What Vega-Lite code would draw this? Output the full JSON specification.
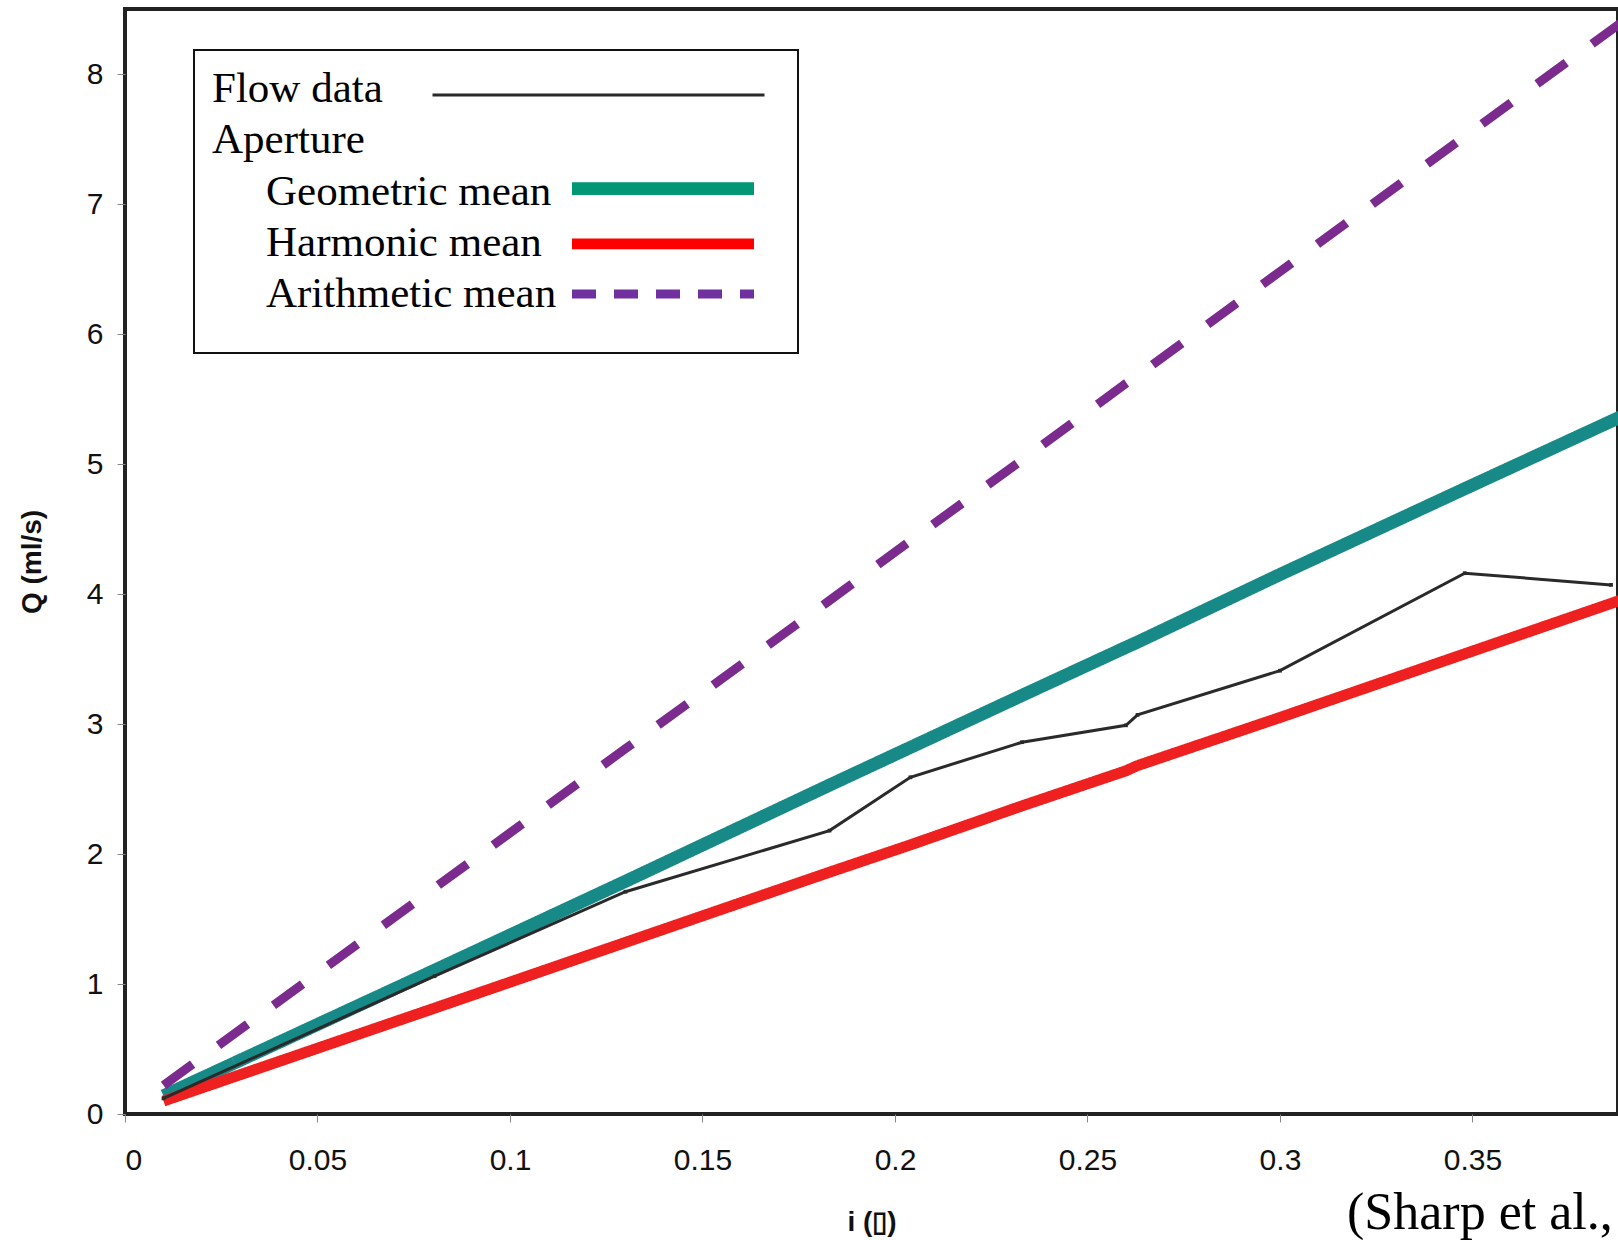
{
  "$schema": "https://vega.github.io/schema/vega-lite/v6.json",
  "width": 1493,
  "height": 1105,
  "autosize": {"type": "none"},
  "padding": {"left": 125, "top": 9, "right": 0, "bottom": 126},
  "background": "white",
  "config": {
    "view": {"stroke": "#222222", "strokeWidth": 4},
    "axis": {
      "grid": false, "domain": false,
      "labelFont": "Liberation Sans", "labelFontSize": 30, "labelColor": "#111111",
      "tickColor": "#888888", "tickSize": 8, "tickWidth": 1,
      "titleFont": "Liberation Sans", "titleFontSize": 28, "titleFontWeight": "bold", "titleColor": "#111111"
    },
    "legend": {"strokeWidth": 2}
  },
  "title": {
    "text": "(Sharp et al.,",
    "orient": "bottom", "anchor": "start", "frame": "group",
    "dx": 1222, "dy": -48, "offset": 0,
    "font": "Liberation Serif", "fontSize": 52, "fontWeight": "normal", "color": "#000000"
  },
  "datasets": {
    "flow": [
      {"i": 0.01, "Q": 0.12, "series": "Flow data"},
      {"i": 0.0804, "Q": 1.06, "series": "Flow data"},
      {"i": 0.130, "Q": 1.71, "series": "Flow data"},
      {"i": 0.183, "Q": 2.18, "series": "Flow data"},
      {"i": 0.204, "Q": 2.59, "series": "Flow data"},
      {"i": 0.233, "Q": 2.86, "series": "Flow data"},
      {"i": 0.260, "Q": 2.99, "series": "Flow data"},
      {"i": 0.263, "Q": 3.07, "series": "Flow data"},
      {"i": 0.300, "Q": 3.41, "series": "Flow data"},
      {"i": 0.348, "Q": 4.16, "series": "Flow data"},
      {"i": 0.386, "Q": 4.07, "series": "Flow data"}
    ],
    "aperture": [
      {"i": 0.01, "Q": 0.14, "series": "Geometric mean"},
      {"i": 0.08, "Q": 1.10, "series": "Geometric mean"},
      {"i": 0.13, "Q": 1.79, "series": "Geometric mean"},
      {"i": 0.183, "Q": 2.53, "series": "Geometric mean"},
      {"i": 0.204, "Q": 2.82, "series": "Geometric mean"},
      {"i": 0.233, "Q": 3.22, "series": "Geometric mean"},
      {"i": 0.26, "Q": 3.59, "series": "Geometric mean"},
      {"i": 0.263, "Q": 3.63, "series": "Geometric mean"},
      {"i": 0.30, "Q": 4.15, "series": "Geometric mean"},
      {"i": 0.348, "Q": 4.81, "series": "Geometric mean"},
      {"i": 0.40, "Q": 5.52, "series": "Geometric mean"},
      {"i": 0.01, "Q": 0.10, "series": "Harmonic mean"},
      {"i": 0.08, "Q": 0.81, "series": "Harmonic mean"},
      {"i": 0.13, "Q": 1.32, "series": "Harmonic mean"},
      {"i": 0.183, "Q": 1.86, "series": "Harmonic mean"},
      {"i": 0.204, "Q": 2.07, "series": "Harmonic mean"},
      {"i": 0.233, "Q": 2.37, "series": "Harmonic mean"},
      {"i": 0.26, "Q": 2.64, "series": "Harmonic mean"},
      {"i": 0.263, "Q": 2.68, "series": "Harmonic mean"},
      {"i": 0.30, "Q": 3.05, "series": "Harmonic mean"},
      {"i": 0.348, "Q": 3.54, "series": "Harmonic mean"},
      {"i": 0.40, "Q": 4.07, "series": "Harmonic mean"},
      {"i": 0.01, "Q": 0.22, "series": "Arithmetic mean"},
      {"i": 0.08, "Q": 1.73, "series": "Arithmetic mean"},
      {"i": 0.13, "Q": 2.81, "series": "Arithmetic mean"},
      {"i": 0.183, "Q": 3.95, "series": "Arithmetic mean"},
      {"i": 0.204, "Q": 4.41, "series": "Arithmetic mean"},
      {"i": 0.233, "Q": 5.03, "series": "Arithmetic mean"},
      {"i": 0.26, "Q": 5.62, "series": "Arithmetic mean"},
      {"i": 0.263, "Q": 5.68, "series": "Arithmetic mean"},
      {"i": 0.30, "Q": 6.48, "series": "Arithmetic mean"},
      {"i": 0.348, "Q": 7.52, "series": "Arithmetic mean"},
      {"i": 0.40, "Q": 8.64, "series": "Arithmetic mean"}
    ]
  },
  "layer": [
    {
      "data": {"name": "aperture"},
      "mark": {"type": "line", "clip": true, "strokeCap": "butt"},
      "encoding": {
        "x": {"field": "i", "type": "quantitative",
              "scale": {"domain": [0, 0.3878], "nice": false, "zero": false},
              "axis": {"values": [0, 0.05, 0.1, 0.15, 0.2, 0.25, 0.3, 0.35], "format": "~g", "labelPadding": 23, "titlePadding": 33, "title": "i (▯)"}},
        "y": {"field": "Q", "type": "quantitative",
              "scale": {"domain": [0, 8.5], "nice": false},
              "axis": {"values": [0, 1, 2, 3, 4, 5, 6, 7, 8], "format": "~g", "labelPadding": 14, "titlePadding": 40, "title": "Q (ml/s)"}},
        "color": {
          "field": "series", "type": "nominal",
          "scale": {"domain": ["Geometric mean", "Harmonic mean", "Arithmetic mean"], "range": ["#178a87", "#ee2020", "#7b2a8d"]},
          "legend": null
        },
        "strokeDash": {
          "field": "series", "type": "nominal",
          "scale": {"domain": ["Geometric mean", "Harmonic mean", "Arithmetic mean"], "range": [[1, 0], [1, 0], [36, 32]]},
          "legend": null
        },
        "strokeWidth": {
          "field": "series", "type": "nominal",
          "scale": {"domain": ["Geometric mean", "Harmonic mean", "Arithmetic mean"], "range": [13, 9, 9]},
          "legend": null
        }
      }
    },
    {
      "data": {"name": "aperture"},
      "transform": [{"filter": "datum.i > 1"}],
      "mark": {"type": "line", "strokeCap": "butt"},
      "encoding": {
        "x": {"field": "i", "type": "quantitative"},
        "y": {"field": "Q", "type": "quantitative"},
        "color": {
          "field": "series", "type": "nominal",
          "scale": {"domain": ["Geometric mean", "Harmonic mean", "Arithmetic mean"], "range": ["#009874", "#ff0000", "#7030a0"]},
          "legend": {
            "orient": "none", "legendX": 69, "legendY": 41,
            "title": ["Flow data\u00a0\u00a0\u00a0\u00a0\u00a0\u00a0\u00a0\u00a0\u00a0\u00a0\u00a0\u00a0\u00a0\u00a0\u00a0\u00a0\u00a0\u00a0\u00a0\u00a0\u00a0\u00a0\u00a0\u00a0\u00a0\u00a0\u00a0\u00a0\u00a0\u00a0\u00a0\u00a0\u00a0\u00a0\u00a0\u00a0\u00a0", "Aperture"],
            "titleFont": "Liberation Serif", "titleFontSize": 43, "titleFontWeight": "normal", "titleColor": "#000000",
            "titleLineHeight": 51, "titlePadding": 9, "titleLimit": 2000, "titleAnchor": "start",
            "labelFont": "Liberation Serif", "labelFontSize": 43, "labelColor": "#000000", "labelLimit": 2000,
            "symbolType": "stroke", "symbolSize": 33124,
            "rowPadding": 7, "padding": 18, "strokeColor": "#111111",
            "encode": {
              "symbols": {"update": {
                "x": {"value": 451},
                "y": {"signal": "datum.value === 'Geometric mean' ? 17.7 : datum.value === 'Harmonic mean' ? 21.9 : 21"}
              }},
              "labels": {"update": {
                "x": {"value": 54},
                "y": {"value": 0},
                "baseline": {"value": "top"},
                "lineHeight": {"value": 18.6},
                "text": {"signal": "datum.value === 'Arithmetic mean' ? ['Arithmetic mean', ' '] : datum.label"}
              }}
            }
          }
        },
        "strokeDash": {
          "field": "series", "type": "nominal",
          "scale": {"domain": ["Geometric mean", "Harmonic mean", "Arithmetic mean"], "range": [[1, 0], [1, 0], [24, 18]]}
        },
        "strokeWidth": {
          "field": "series", "type": "nominal",
          "scale": {"domain": ["Geometric mean", "Harmonic mean", "Arithmetic mean"], "range": [12.7, 9, 6]}
        }
      }
    },
    {
      "data": {"name": "flow"},
      "mark": {"type": "line", "strokeWidth": 3, "clip": true},
      "encoding": {
        "x": {"field": "i", "type": "quantitative"},
        "y": {"field": "Q", "type": "quantitative"},
        "color": {
          "field": "series", "type": "nominal",
          "scale": {"domain": ["Flow data"], "range": ["#2a2a2a"]},
          "legend": {
            "orient": "none", "legendX": 306, "legendY": 86,
            "title": null, "labelExpr": "''",
            "symbolType": "stroke", "symbolSize": 110224, "symbolStrokeWidth": 3,
            "padding": 0,
            "encode": {"symbols": {"update": {"stroke": {"value": "#000000"}, "strokeWidth": {"value": 3}, "y": {"value": 0}}}}
          }
        }
      }
    },
    {
      "data": {"name": "flow"},
      "mark": {"type": "point", "shape": "square", "size": 14, "filled": true, "color": "#2a2a2a", "opacity": 1, "clip": true},
      "encoding": {
        "x": {"field": "i", "type": "quantitative"},
        "y": {"field": "Q", "type": "quantitative"}
      }
    }
  ],
  "resolve": {
    "scale": {"color": "independent", "strokeDash": "independent", "strokeWidth": "independent"},
    "legend": {"color": "independent", "strokeDash": "independent", "strokeWidth": "independent"}
  }
}
